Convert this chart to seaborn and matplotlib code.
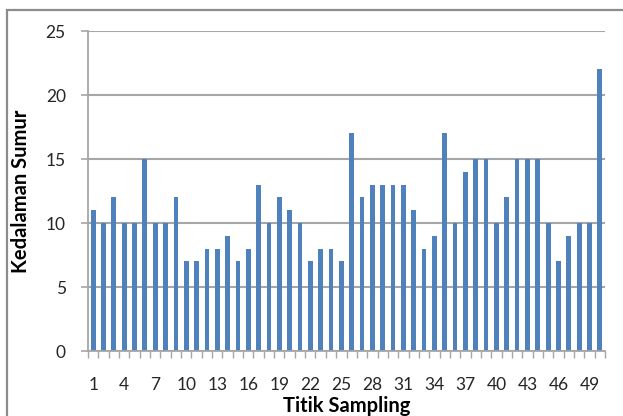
import matplotlib
matplotlib.use("Agg")
import matplotlib.pyplot as plt
from matplotlib.patches import Rectangle
from matplotlib.ticker import FixedLocator, NullFormatter
import seaborn as sns
import pandas as pd

# Well depth per sampling point
titik = list(range(1, 51))
kedalaman = [11, 10, 12, 10, 10, 15, 10, 10, 12, 7,
             7, 8, 8, 9, 7, 8, 13, 10, 12, 11,
             10, 7, 8, 8, 7, 17, 12, 13, 13, 13,
             13, 11, 8, 9, 17, 10, 14, 15, 15, 10,
             12, 15, 15, 15, 10, 7, 9, 10, 10, 22]
y_ticks = [0, 5, 10, 15, 20, 25]

df = pd.DataFrame({"Titik": [str(t) for t in titik], "Kedalaman": kedalaman})

sns.set_theme(style="white")
plt.rcParams["font.family"] = ["Lato", "DejaVu Sans"]

fig = plt.figure(figsize=(6.23, 4.16), dpi=100)
ax = fig.add_axes([88 / 623, 1 - 351 / 416, (605 - 88) / 623, (351 - 31) / 416])

sns.barplot(data=df, x="Titik", y="Kedalaman", color="#4F81BD",
            saturation=1, width=0.46, linewidth=0, ax=ax)

ax.set_ylim(0, 25)
ax.set_xlim(-0.5, len(titik) - 0.5)
ax.set_yticks(y_ticks)
ax.set_yticklabels([str(v) for v in y_ticks])

# Label every third sampling point; tick marks sit between categories
major = list(range(0, len(titik), 3))
ax.set_xticks(major)
ax.set_xticklabels([str(titik[i]) for i in major])
ax.xaxis.set_minor_locator(FixedLocator([i - 0.5 for i in range(len(titik) + 1)]))
ax.xaxis.set_minor_formatter(NullFormatter())

ax.grid(axis="y", color="#A6A6A6", linewidth=1.5)
ax.set_axisbelow(True)
for side in ("top", "right"):
    ax.spines[side].set_visible(False)
for side in ("left", "bottom"):
    ax.spines[side].set_color("#A6A6A6")
    ax.spines[side].set_linewidth(1.3)

ax.tick_params(axis="y", which="major", left=True, length=5, width=1.2,
               color="#A6A6A6", pad=11, labelsize=12.5, labelcolor="#262626")
ax.tick_params(axis="x", which="major", bottom=False, length=0, pad=19,
               labelsize=12.5, labelcolor="#262626")
ax.tick_params(axis="x", which="minor", bottom=True, length=5, width=1.0,
               color="#A6A6A6")

ax.set_xlabel("Titik Sampling", fontsize=14.5, fontweight="bold", color="#000000")
ax.set_ylabel("Kedalaman Sumur", fontsize=14.5, fontweight="bold", color="#000000")
ax.xaxis.set_label_coords(0.5, -0.142)
ax.yaxis.set_label_coords(-0.11, 0.5)

# Outer chart frame
fig.patches.append(Rectangle((7 / 623, -0.1), 1.1, 1 - 10 / 416 + 0.1,
                             transform=fig.transFigure, fill=False,
                             edgecolor="#8C8C8C", linewidth=1.6))

fig.savefig("out.png", dpi=100)
